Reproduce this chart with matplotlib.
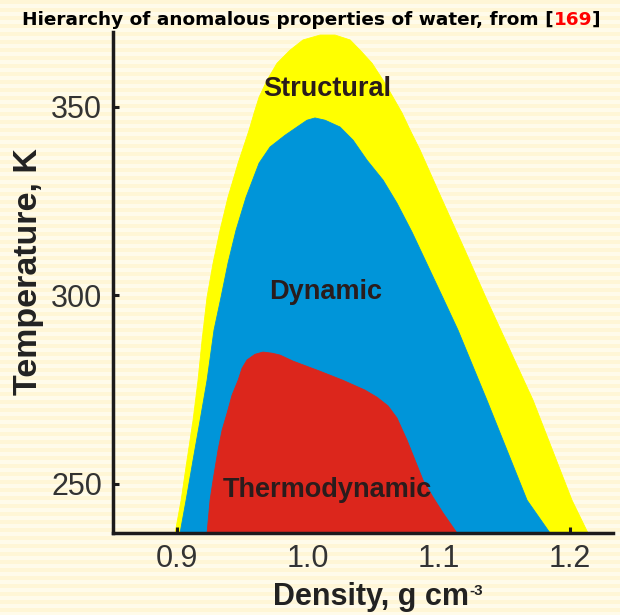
import numpy as np
import matplotlib
matplotlib.use("Agg")
import matplotlib.pyplot as plt
from matplotlib.text import Annotation

# ---- data (density g/cm3, temperature K) ----
structural_density = [0.8985, 0.9031, 0.9076, 0.9122, 0.9160, 0.9191, 0.9229, 0.9275, 0.9328,
                      0.9389, 0.9466, 0.9550, 0.9588, 0.9626, 0.9687, 0.9763, 0.9863, 0.9962,
                      1.0092, 1.0206, 1.0321, 1.0397, 1.0489, 1.0573, 1.0649, 1.0718, 1.0779,
                      1.0855, 1.1015, 1.1198, 1.1366, 1.1718, 1.2015, 1.2137]
structural_temp = [236.9, 245.6, 256.2, 266.8, 277.4, 288.1, 299.5, 308.5, 317.2,
                   326.0, 335.0, 343.8, 348.3, 352.5, 357.0, 361.5, 365.0, 367.7,
                   369.0, 369.0, 367.7, 365.0, 361.5, 357.0, 352.5, 348.3, 343.8,
                   338.5, 326.0, 311.9, 298.7, 272.1, 245.6, 236.9]

dynamic_density = [0.9023, 0.9069, 0.9122, 0.9176, 0.9229, 0.9282, 0.9336, 0.9389, 0.9450,
                   0.9527, 0.9626, 0.9710, 0.9824, 0.9916, 0.9992, 1.0053, 1.0130, 1.0244,
                   1.0344, 1.0450, 1.0573, 1.0679, 1.0794, 1.1031, 1.1145, 1.1366, 1.1672,
                   1.1847]
dynamic_temp = [236.9, 245.6, 256.2, 266.8, 277.4, 290.7, 299.5, 308.5, 317.2,
                326.0, 335.0, 339.3, 342.4, 344.6, 346.4, 347.0, 346.4, 344.6,
                341.1, 335.8, 330.5, 324.4, 316.7, 299.2, 290.7, 272.1, 245.6,
                236.9]

thermo_density = [0.9229, 0.9252, 0.9275, 0.9313, 0.9344, 0.9382, 0.9420, 0.9466, 0.9496,
                  0.9534, 0.9595, 0.9656, 0.9725, 0.9786, 0.9885, 1.0092, 1.0267, 1.0435,
                  1.0527, 1.0611, 1.0679, 1.0756, 1.0817, 1.0878, 1.0954, 1.1031, 1.1137]
thermo_temp = [236.9, 245.6, 250.9, 258.9, 264.2, 268.7, 273.5, 277.4, 280.6,
               282.8, 284.3, 284.9, 284.6, 284.1, 282.5, 279.8, 277.4, 274.8,
               272.9, 270.6, 267.4, 261.5, 256.2, 250.9, 246.4, 242.2, 236.9]

region_labels = ["Structural", "Dynamic", "Thermodynamic"]
label_density = [1.0145, 1.0137, 1.0145]
label_temp = [354.6, 300.8, 248.3]

x_ticks = [0.9, 1.0, 1.1, 1.2]
x_ticklabels = ["0.9", "1.0", "1.1", "1.2"]
y_ticks = [250, 300, 350]
y_ticklabels = ["250", "300", "350"]

W, H = 620, 615
fig = plt.figure(figsize=(W / 100, H / 100), dpi=100)

# striped cream background
bg = fig.add_axes([0, 0, 1, 1], zorder=-10)
rows = np.arange(H)
stripe = ((rows // 4) % 2 == 0)
c1 = np.array([255, 246, 214]) / 255.0
c2 = np.array([255, 251, 234]) / 255.0
img = np.where(stripe[:, None, None], c1, c2) * np.ones((H, 4, 3))
bg.imshow(img, aspect='auto', extent=[0, 1, 0, 1], interpolation='nearest')
bg.axis('off')

ax = fig.add_axes([113 / W, (H - 533) / H, 500 / W, (533 - 32) / H])
ax.patch.set_alpha(0)
ax.set_xlim(0.8511, 1.2328)
ax.set_ylim(236.9, 369.8)

ax.fill(structural_density, structural_temp, color='#FFFF00', lw=0.6, ec='#FFFF00', zorder=1)
ax.fill(dynamic_density, dynamic_temp, color='#0095D9', lw=0.6, ec='#0095D9', zorder=2)
ax.fill(thermo_density, thermo_temp, color='#DC261C', lw=0.6, ec='#DC261C', zorder=3)

for lab, xd, yd in zip(region_labels, label_density, label_temp):
    ax.text(xd, yd, lab, ha='center', va='center', fontsize=19.5, fontweight='bold',
            family='Liberation Sans', color='#2a1c1c', zorder=5)

for s in ['top', 'right']:
    ax.spines[s].set_visible(False)
for s in ['left', 'bottom']:
    ax.spines[s].set_linewidth(2.5)
    ax.spines[s].set_color('#1c1a1a')
    ax.spines[s].set_zorder(6)

ax.set_xticks(x_ticks)
ax.set_xticklabels(x_ticklabels)
ax.set_yticks(y_ticks)
ax.set_yticklabels(y_ticklabels)
ax.tick_params(direction='in', length=4, width=2.2, color='#1c1a1a',
               labelsize=22, labelcolor='#333333', pad=8)
for t in ax.get_xticklabels() + ax.get_yticklabels():
    t.set_family('Liberation Sans')

fig.text(29 / W, 1 - 272 / H, "Temperature, K", rotation=90, ha='center', va='center',
         fontsize=24.5, fontweight='bold', family='Liberation Sans', color='#222222')
dlab = fig.text(273 / W, 10 / H, "Density, g cm", ha='left', va='baseline',
                fontsize=22, fontweight='bold', family='Liberation Sans', color='#222222')
fig.add_artist(Annotation("-3", xy=(1, 0.93), xycoords=dlab, ha='left', va='top',
                          fontsize=11, fontweight='bold', family='Liberation Sans',
                          color='#222222'))

# title with red reference number
fs_t = 13.3
t1 = fig.text(22 / W, 1 - 20 / H, "Hierarchy of anomalous properties of water, from [",
              ha='left', va='center', fontsize=fs_t, fontweight='bold',
              family='DejaVu Sans', color='black')
a2 = fig.add_artist(Annotation("169", xy=(1, 0), xycoords=t1, ha='left', va='bottom',
                               fontsize=fs_t, fontweight='bold',
                               family='DejaVu Sans', color='#FF0000'))
fig.add_artist(Annotation("]", xy=(1, 0), xycoords=a2, ha='left', va='bottom',
                          fontsize=fs_t, fontweight='bold',
                          family='DejaVu Sans', color='black'))

fig.savefig("out.png", dpi=100)
